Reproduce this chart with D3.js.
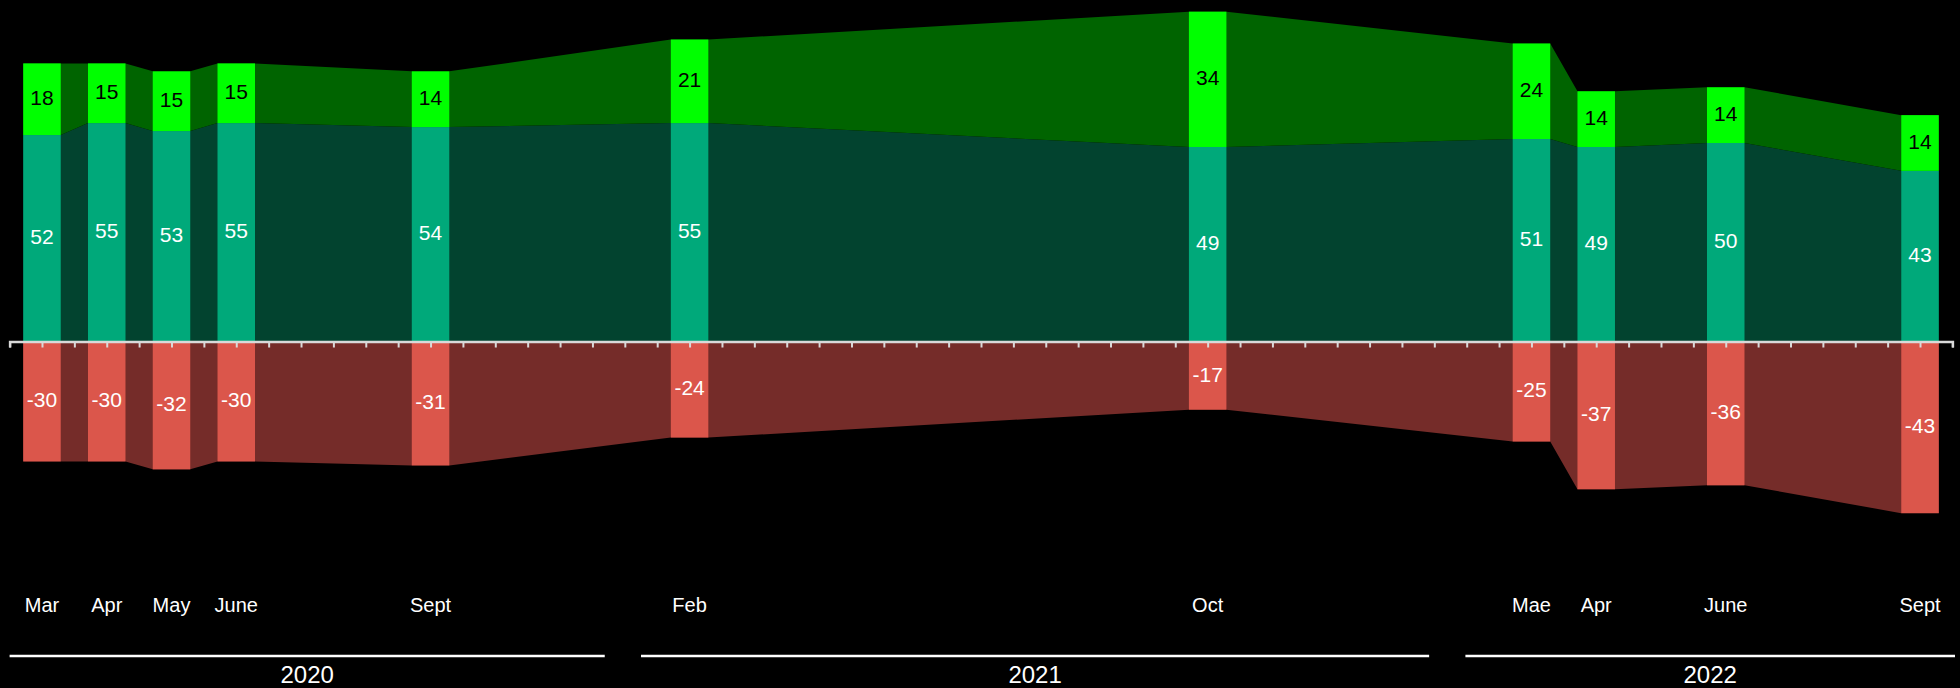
<!DOCTYPE html>
<html>
<head>
<meta charset="utf-8">
<script src="https://cdn.jsdelivr.net/npm/d3@7"></script>
<style>
  html, body { margin: 0; padding: 0; background: #000; }
  svg { display: block; }
  text { font-family: "Liberation Sans", Arial, sans-serif; }
</style>
</head>
<body>
<svg id="chart" width="1960" height="688"></svg>
<script>
// Survey waves, March 2020 to September 2022
const monthLabels = ["Mar", "Apr", "May", "June", "Sept", "Feb", "Oct", "Mae", "Apr", "June", "Sept"];
const waveYears   = [2020, 2020, 2020, 2020, 2020, 2021, 2021, 2022, 2022, 2022, 2022];
// position of each wave along the month axis (months after the first wave)
const wavePos     = [0, 1, 2, 3, 6, 10, 18, 23, 24, 26, 29];

// shares per wave
const strongPositive = [18, 15, 15, 15, 14, 21, 34, 24, 14, 14, 14];
const positive       = [52, 55, 53, 55, 54, 55, 49, 51, 49, 50, 43];
const negative       = [-30, -30, -32, -30, -31, -24, -17, -25, -37, -36, -43];

// year groups beneath the axis, in month-axis units
const yearNames = ["2020", "2021", "2022"];
const yearFrom  = [-0.5, 9.25, 21.98];
const yearTo    = [8.69, 21.42, 29.54];

const rows = wavePos.map((p, i) => ({
  pos: p,
  month: monthLabels[i],
  year: waveYears[i],
  positive: positive[i],
  strongPositive: strongPositive[i],
  negative: negative[i]
}));

const keys = ["positive", "strongPositive", "negative"];
const barColor  = { positive: "#00a97a", strongPositive: "#00ff00", negative: "#db564b" };
const bandColor = { positive: "#02432f", strongPositive: "#006400", negative: "#752c29" };
const textColor = { positive: "#ffffff", strongPositive: "#000000", negative: "#ffffff" };

const svg = d3.select("#chart");

const x = d3.scaleLinear().domain([-0.5, 29.5]).range([9.6, 1952.4]);
const y = d3.scaleLinear().domain([-86, 85]).range([684.3, 3.7]);
const barW = 37.5;

const series = d3.stack()
  .keys(keys)
  .offset(d3.stackOffsetDiverging)(rows);

// connecting bands between the bars
const band = d3.area()
  .x(d => d.x)
  .y0(d => y(d.v0))
  .y1(d => y(d.v1));

svg.append("g").selectAll("path")
  .data(series)
  .join("path")
  .attr("fill", s => bandColor[s.key])
  .attr("d", s => {
    const pts = [];
    s.forEach(seg => {
      const cx = x(seg.data.pos);
      pts.push({ x: cx - barW / 2, v0: seg[0], v1: seg[1] });
      pts.push({ x: cx + barW / 2, v0: seg[0], v1: seg[1] });
    });
    return band(pts);
  });

// bars
const barLayer = svg.append("g");
series.forEach(s => {
  barLayer.append("g")
    .selectAll("rect")
    .data(s)
    .join("rect")
    .attr("x", seg => x(seg.data.pos) - barW / 2)
    .attr("width", barW)
    .attr("y", seg => y(Math.max(seg[0], seg[1])))
    .attr("height", seg => Math.abs(y(seg[0]) - y(seg[1])))
    .attr("fill", barColor[s.key]);
});

// month axis
const ticks = d3.range(-0.5, 29.5001, 0.5);
const axis = d3.axisBottom(x)
  .tickValues(ticks)
  .tickSize(6)
  .tickSizeOuter(6)
  .tickFormat("");
const axisG = svg.append("g")
  .attr("transform", `translate(0,${y(0) - 0.5})`)
  .call(axis);
axisG.select(".domain").attr("stroke", "#d9d9d9").attr("stroke-width", 2.5);
axisG.selectAll(".tick line").attr("stroke", "#d9d9d9").attr("stroke-width", 2);

// value labels
const labelLayer = svg.append("g");
series.forEach(s => {
  labelLayer.append("g")
    .selectAll("text")
    .data(s)
    .join("text")
    .attr("x", seg => x(seg.data.pos))
    .attr("y", seg => (y(seg[0]) + y(seg[1])) / 2)
    .attr("dy", "0.27em")
    .attr("text-anchor", "middle")
    .attr("font-size", 21)
    .attr("fill", textColor[s.key])
    .text(seg => seg.data[s.key]);
});

// month names
svg.append("g")
  .selectAll("text")
  .data(rows)
  .join("text")
  .attr("x", d => x(d.pos))
  .attr("y", 612)
  .attr("text-anchor", "middle")
  .attr("font-size", 20)
  .attr("fill", "#ffffff")
  .text(d => d.month);

// year groups
const yearG = svg.append("g");
yearNames.forEach((name, i) => {
  yearG.append("line")
    .attr("x1", x(yearFrom[i]))
    .attr("x2", x(yearTo[i]))
    .attr("y1", 656)
    .attr("y2", 656)
    .attr("stroke", "#ffffff")
    .attr("stroke-width", 2.5);
  yearG.append("text")
    .attr("x", (x(yearFrom[i]) + x(yearTo[i])) / 2)
    .attr("y", 683)
    .attr("text-anchor", "middle")
    .attr("font-size", 24)
    .attr("fill", "#ffffff")
    .text(name);
});
</script>
</body>
</html>
